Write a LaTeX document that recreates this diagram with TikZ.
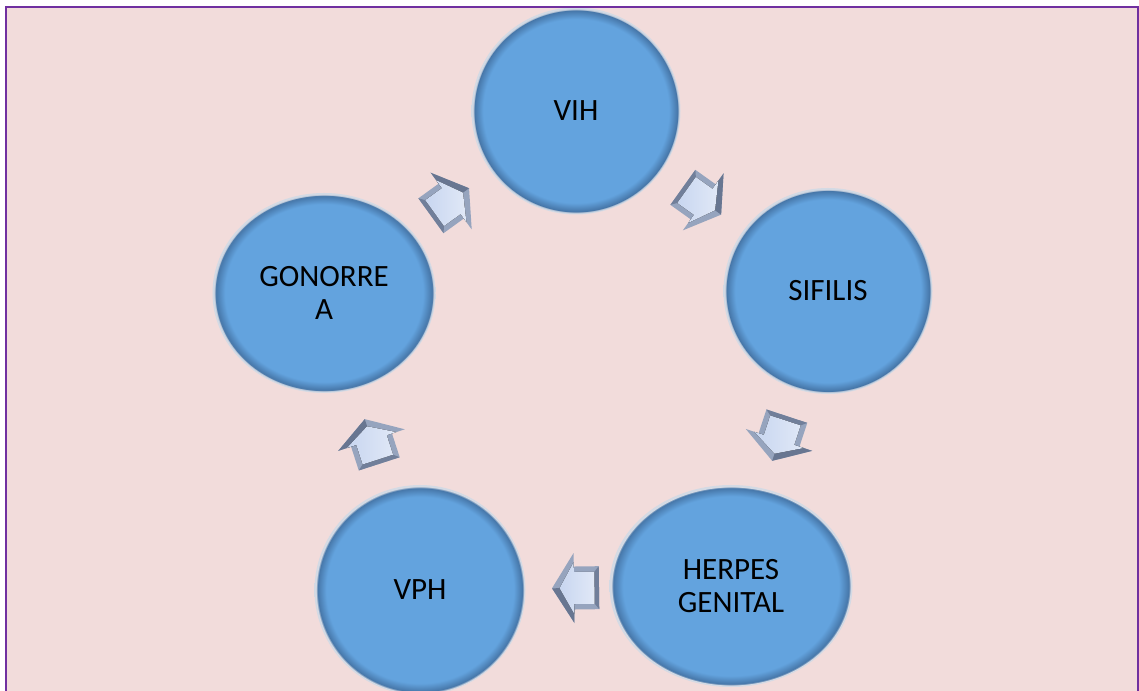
\documentclass[tikz,border=0pt]{standalone}
\usepackage{fontspec}
\setmainfont{Carlito}
\usetikzlibrary{shapes.geometric}
\definecolor{framepink}{RGB}{242, 220, 219}
\definecolor{framepurple}{RGB}{112, 48, 160}
\definecolor{discblue}{RGB}{99, 163, 222}
\definecolor{discshade}{RGB}{70, 118, 168}
\definecolor{discrim}{RGB}{212, 218, 228}
\definecolor{tipface}{RGB}{200, 214, 240}
\definecolor{tipedge}{RGB}{150, 164, 190}
\definecolor{tipdark}{RGB}{104, 118, 145}
\pgfdeclareradialshading{discbevel}{\pgfpoint{0bp}{0bp}}{%
  color(0bp)=(discblue); color(22.2bp)=(discblue); color(24.3bp)=(discshade);
  color(24.6bp)=(discrim); color(25bp)=(discrim); color(50bp)=(discrim)}
\tikzset{
  disc/.style={ellipse, shading=discbevel, inner sep=0pt, align=center,
    text=black, font=\fontsize{31}{33}\selectfont},
  cyclearrow/.pic={
    \fill[tipedge] (-23.5,-21.5) -- (1.5,-21.5) -- (1.5,-35) -- (23.5,0)
      -- (1.5,35) -- (1.5,21.5) -- (-23.5,21.5) -- cycle;
    \fill[tipdark] (1.5,0) -- (23.5,0) -- (1.5,35) -- cycle;
    \fill[tipdark!80!tipedge] (-23.5,21.5) -- (-19,16) -- (-19,-16) -- (-23.5,-21.5) -- cycle;
    \fill[left color=tipface, right color=tipface!55!white] (-19,-16) -- (1.5,-16)
      -- (1.5,-26) -- (16,0) -- (1.5,26) -- (1.5,16) -- (-19,16) -- cycle;
  }
}

\begin{document}
\begin{tikzpicture}[x=1pt, y=1pt]
  \useasboundingbox (0,0) rectangle (1139,690);
  \fill[white] (0,0) rectangle (1139,690);
  \fill[framepink] (6,-5) rectangle (1138,683);
  % the five discs
  \node[disc, minimum width=209pt, minimum height=207pt] (vih) at (576,579) {VIH};
  \node[disc, minimum width=209pt, minimum height=206pt] (sif) at (828,399) {SIFILIS};
  \node[disc, minimum width=243pt, minimum height=202pt] (her) at (731,104) {HERPES\\GENITAL};
  \node[disc, minimum width=211pt, minimum height=210pt] (vph) at (420,100) {VPH};
  \node[disc, minimum width=223pt, minimum height=200pt] (gon) at (324,397) {GONORRE\\A};
  % arrows round the cycle
  \foreach \from/\to in {vih/sif, sif/her, her/vph, vph/gon, gon/vih}
    \path (\from.center) -- pic[midway, sloped, allow upside down] {cyclearrow} (\to.center);
  \draw[framepurple, line width=2pt] (6,-5) -- (6,683) -- (1138,683) -- (1138,-5);
\end{tikzpicture}
\end{document}
